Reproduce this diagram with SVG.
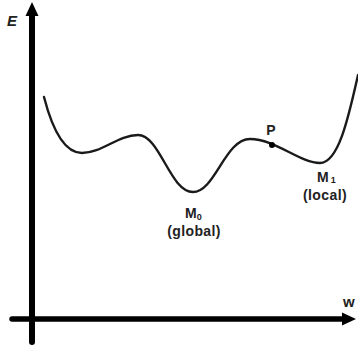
<svg xmlns="http://www.w3.org/2000/svg" width="358" height="349" viewBox="0 0 358 349">
<style>
.axis{stroke:#000;stroke-width:6;stroke-linecap:round;fill:none}
.curve{stroke:#1a1a1a;stroke-width:2.4;fill:none;stroke-linecap:round}
.lbl{font-family:"Liberation Sans",Arial,sans-serif;font-weight:bold;fill:#222;font-size:14px}
</style>
<rect width="358" height="349" fill="#fff"/>
<g id="axes">
<line class="axis" x1="32" y1="14" x2="32" y2="342"/>
<polygon points="32,2 25.5,16 38.5,16" fill="#000"/>
<line class="axis" x1="12" y1="319" x2="345" y2="319" style="stroke-width:5.5"/>
<polygon points="356,319 342,312.5 342,325.5" fill="#000"/>
<text class="lbl" x="7" y="26" style="font-style:italic;font-size:15px">E</text>
<text class="lbl" x="343" y="307" style="font-size:15px">w</text>
</g>
<g id="curve">
<path class="curve" d="M44,97 C52,128 64,153 82,153 C102,153 118,135 138,135 C160,135 170,192 193,192 C215,192 225,139 250,139 C275,139 300,163 320,163 C338,163 348,120 358,75"/>
<circle cx="272" cy="145" r="3" fill="#000"/>
</g>
<g id="labels">
<text class="lbl" x="271" y="135" text-anchor="middle">P</text>
<text class="lbl" x="185" y="218">M<tspan font-size="9" dy="2">0</tspan></text>
<text class="lbl" x="194" y="236" text-anchor="middle" letter-spacing="0.4">(global)</text>
<text class="lbl" x="317" y="182">M<tspan font-size="9" dy="1" dx="2">1</tspan></text>
<text class="lbl" x="325" y="200" text-anchor="middle" letter-spacing="0.4">(local)</text>
</g>
</svg>
